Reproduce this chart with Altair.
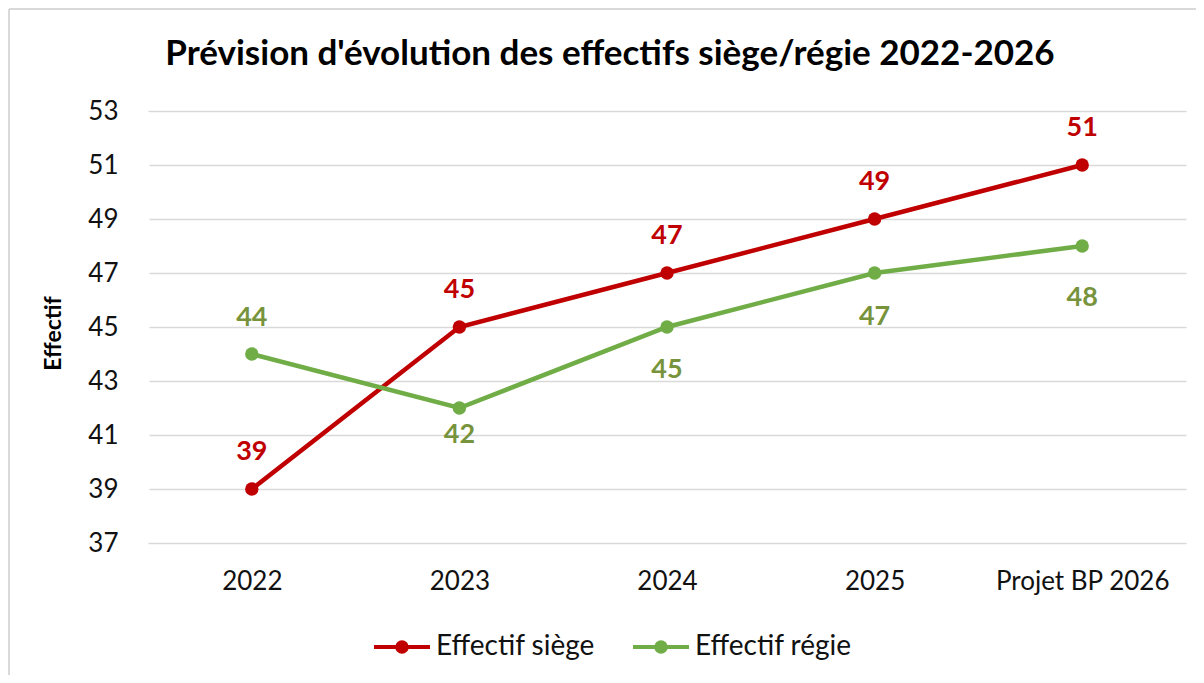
import altair as alt
import pandas as pd

years = ["2022", "2023", "2024", "2025", "Projet BP 2026"]
siege = [39, 45, 47, 49, 51]
regie = [44, 42, 45, 47, 48]
series_names = ["Effectif siège", "Effectif régie"]
colors = ["#C00000", "#70AD47"]
label_colors = ["#C00000", "#77933C"]
y_ticks = [37, 39, 41, 43, 45, 47, 49, 51, 53]
title_text = "Prévision d'évolution des effectifs siège/régie 2022-2026"

rows = []
for i, y in enumerate(years):
    rows.append({"year": y, "serie": series_names[0], "value": siege[i], "idx": i})
for i, y in enumerate(years):
    rows.append({"year": y, "serie": series_names[1], "value": regie[i], "idx": i})
df = pd.DataFrame(rows)

FONT = "Lato"
W, H = 1038, 432

x_enc = alt.X("year:N", sort=years, title=None,
              scale=alt.Scale(type="point", padding=0.5),
              axis=alt.Axis(labelFontSize=26, labelColor="#111111", labelFont=FONT,
                            labelPadding=25, ticks=False, domain=False, grid=False,
                            labelAngle=0))
y_enc = alt.Y("value:Q", title="Effectif",
              scale=alt.Scale(domain=[37, 53], nice=False, zero=False),
              axis=alt.Axis(values=y_ticks, labelFontSize=26, labelColor="#111111",
                            labelFont=FONT, labelPadding=30, ticks=False, domain=False,
                            grid=True, gridColor="#D9D9D9", gridWidth=1.5,
                            titleFont=FONT, titleFontSize=23, titleFontWeight="bold",
                            titleColor="#000000", titleAngle=-90, titleX=-95, titleY=222,
                            titleAlign="center", titleBaseline="middle"))

legend_path = ("M-1,0L1,0M-0.17,0A0.17,0.17,0,1,1,0.17,0A0.17,0.17,0,1,1,-0.17,0Z")
color_enc = alt.Color("serie:N", sort=series_names,
                      scale=alt.Scale(domain=series_names, range=colors),
                      legend=alt.Legend(title=None, orient="none", direction="horizontal",
                                        legendX=224, legendY=506,
                                        symbolType=legend_path, symbolSize=3136,
                                        symbolStrokeWidth=4, labelFont=FONT,
                                        labelFontSize=28, labelColor="#111111",
                                        labelOffset=4, columnPadding=30))

base = alt.Chart(df)

lines = base.mark_line(strokeWidth=4.5).encode(x=x_enc, y=y_enc, color=color_enc)
points = base.mark_point(filled=True, size=180, opacity=1).encode(
    x=x_enc, y=y_enc, color=alt.Color("serie:N", sort=series_names,
                                      scale=alt.Scale(domain=series_names, range=colors),
                                      legend=None))

label_style = dict(fontSize=27, fontWeight="bold", font=FONT, baseline="middle", align="center")

red_labels = base.transform_filter(alt.datum.serie == series_names[0]).mark_text(
    dy=-37, color=label_colors[0], **label_style).encode(x=x_enc, y=y_enc, text="value:Q")

green_offsets = [-36, 27, 43, 44, 52]
green_layers = []
for i, off in enumerate(green_offsets):
    green_layers.append(
        base.transform_filter((alt.datum.serie == series_names[1]) & (alt.datum.idx == i))
        .mark_text(dy=off, color=label_colors[1], **label_style)
        .encode(x=x_enc, y=y_enc, text="value:Q"))

one = alt.Data(values=[{"t": title_text}])
border_left = alt.Chart(one).mark_rule(color="#D9D9D9", strokeWidth=2).encode(
    x=alt.value(-139), y=alt.value(-102), y2=alt.value(580))
border_top = alt.Chart(one).mark_rule(color="#D9D9D9", strokeWidth=2).encode(
    x=alt.value(-139), x2=alt.value(1060), y=alt.value(-102))
edge_cover = alt.Chart(one).mark_rule(color="white", strokeWidth=3).encode(
    x=alt.value(0), y=alt.value(1), y2=alt.value(H - 1))
title = alt.Chart(one).mark_text(font=FONT, fontSize=35, fontWeight="bold", color="#000000",
                                 align="center", baseline="alphabetic").encode(
    x=alt.value(462), y=alt.value(-46), text="t:N")

chart = alt.layer(border_left, border_top, edge_cover, title, lines, points, red_labels,
                  *green_layers).properties(
    width=W, height=H,
    view=alt.ViewBackground(stroke="transparent", strokeWidth=0),
    autosize=alt.AutoSizeParams(type="none"),
    padding={"left": 140, "top": 103, "right": 10, "bottom": 132},
).configure_view(stroke="transparent", strokeWidth=0).configure_axis(
    domain=False).configure(background="white")

chart.save("out.html", embed_options={"renderer": "svg", "actions": False})
